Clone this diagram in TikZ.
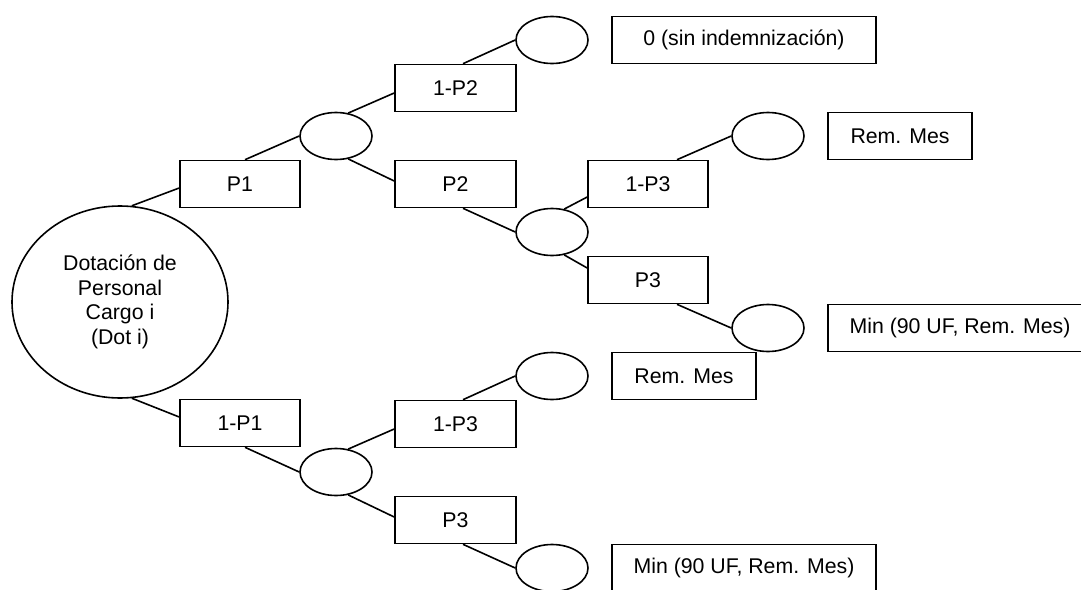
\documentclass[tikz,border=0pt]{standalone}
\usepackage{fontspec}
\setmainfont{Liberation Sans}
\usetikzlibrary{shapes.geometric}
\begin{document}
\begin{tikzpicture}[x=1pt,y=-1pt,
  every node/.style={font=\fontsize{21.3}{24.5}\selectfont, inner sep=0pt},
  box/.style={draw, line width=1.6pt, rectangle, minimum width=120pt, minimum height=47pt},
  wbox/.style={box, minimum width=264pt},
  mbox/.style={box, minimum width=144pt},
  oval/.style={draw, line width=1.6pt, ellipse, minimum width=72pt, minimum height=47pt},
  conn/.style={line width=1.6pt}]
\useasboundingbox (0,0) rectangle (1081,589);
\fill[white] (0,0) rectangle (1081,589);
% root
\node[draw, line width=1.6pt, ellipse, minimum width=216pt, minimum height=192pt, align=center] (dot) at (120,302) {\raisebox{5pt}{\parbox{150pt}{\centering Dotación de\\Personal\\Cargo i\\(Dot i)}}};
% level 1
\node[box] (p1) at (240,184) {P1};
\node[box] (np1) at (240,423) {1-P1};
\node[oval] (e1) at (336,136) {};
\node[oval] (e6) at (336,472) {};
% level 2 upper
\node[box, minimum width=121pt] (np2) at (455.5,88) {1-P2};
\node[box, minimum width=121pt] (p2) at (455.5,184) {P2};
\node[oval] (e2) at (552,40) {};
\node[oval] (e3) at (552,232) {};
\node[wbox] (r0) at (744,40) {0 (sin indemnización)};
% level 3 upper
\node[box] (np3a) at (648,184) {1-P3};
\node[box] (p3a) at (648,280) {P3};
\node[oval] (e4) at (768,136) {};
\node[oval] (e5) at (768,328) {};
\node[mbox] (rem1) at (900,136) {Rem. Mes};
\node[wbox] (min1) at (960,328) {Min (90 UF, Rem. Mes)};
% level 2 lower
\node[box, minimum width=121pt] (np3b) at (455.5,424) {1-P3};
\node[box, minimum width=121pt] (p3b) at (455.5,520) {P3};
\node[oval] (e7) at (552,376) {};
\node[oval] (e8) at (552,568) {};
\node[mbox] (rem2) at (684,376) {Rem. Mes};
\node[wbox] (min2) at (744,568) {Min (90 UF, Rem. Mes)};
% connectors
\draw[conn] (dot.83) -- ([yshift=-4pt]p1.west);
\draw[conn] (dot.-83) -- ([yshift=6pt]np1.west);
\draw[conn] ([xshift=5pt]p1.north) -- (e1.west);
\draw[conn] ([xshift=5pt]np1.south) -- (e6.west);
\draw[conn] (e1.62) -- ([yshift=-5pt]np2.west);
\draw[conn] (e1.-62) -- ([yshift=3pt]p2.west);
\draw[conn] ([xshift=7.5pt]np2.north) -- (e2.west);
\draw[conn] ([xshift=7.5pt]p2.south) -- (e3.west);
\draw[conn] (e3.62) -- ([yshift=-13pt]np3a.west);
\draw[conn] (e3.-62) -- ([yshift=12pt]p3a.west);
\draw[conn] ([xshift=29pt]np3a.north) -- (e4.west);
\draw[conn] ([xshift=29pt]p3a.south) -- (e5.west);
\draw[conn] (e6.62) -- ([yshift=-5pt]np3b.west);
\draw[conn] (e6.-62) -- ([yshift=3pt]p3b.west);
\draw[conn] ([xshift=7.5pt]np3b.north) -- (e7.west);
\draw[conn] ([xshift=7.5pt]p3b.south) -- (e8.west);
\end{tikzpicture}
\end{document}
